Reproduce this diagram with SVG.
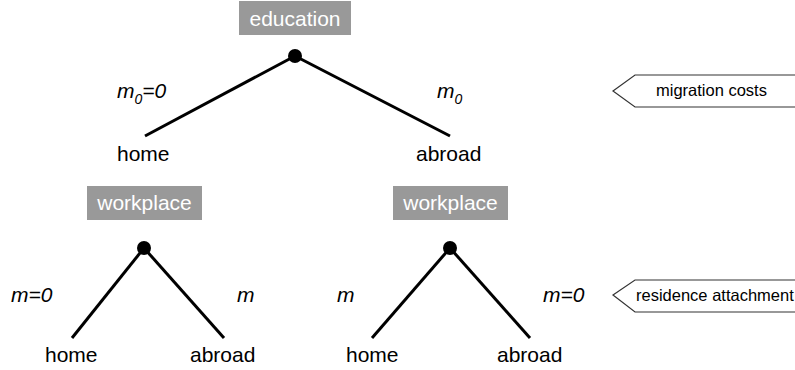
<svg xmlns="http://www.w3.org/2000/svg" width="795" height="370" viewBox="0 0 795 370">
<style>
.box{fill:#999999}
.bt{font-family:"Liberation Sans",Arial,sans-serif;font-size:21px;fill:#ffffff;text-anchor:middle}
.lbl{font-family:"Liberation Sans",Arial,sans-serif;font-size:21px;fill:#000000}
.it{font-family:"Liberation Sans",Arial,sans-serif;font-size:21px;font-style:italic;fill:#000000}
.sub{font-size:14px}
.edge{stroke:#000000;stroke-width:3;fill:none;stroke-linecap:butt}
.dot{fill:#000000}
.tag{fill:#ffffff;stroke:#333333;stroke-width:1.2}
.tt{font-family:"Liberation Sans",Arial,sans-serif;font-size:16.5px;fill:#000000}
</style>
<rect width="795" height="370" fill="#ffffff"/>
<g id="connectors">
<line class="edge" x1="295" y1="56" x2="145" y2="136"/>
<line class="edge" x1="295" y1="56" x2="450" y2="136"/>
<line class="edge" x1="144" y1="248" x2="72" y2="338"/>
<line class="edge" x1="144" y1="248" x2="224" y2="338"/>
<line class="edge" x1="450" y1="248" x2="372" y2="338"/>
<line class="edge" x1="450" y1="248" x2="530" y2="338"/>
</g>
<g id="education">
<rect class="box" x="239" y="1" width="112" height="34"/>
<text class="bt" x="295" y="26">education</text>
<circle class="dot" cx="295" cy="56" r="7"/>
</g>
<g id="edu-labels">
<text class="it" x="117" y="98">m<tspan class="sub" dy="6">0</tspan><tspan dy="-6">=0</tspan></text>
<text class="it" x="437" y="98">m<tspan class="sub" dy="6">0</tspan></text>
</g>
<g id="home-top"><text class="lbl" x="117" y="161">home</text></g>
<g id="abroad-top"><text class="lbl" x="416" y="161">abroad</text></g>
<g id="workplace-left">
<rect class="box" x="87" y="186" width="115" height="34"/>
<text class="bt" x="144.5" y="210">workplace</text>
<circle class="dot" cx="144" cy="248" r="7"/>
</g>
<g id="workplace-right">
<rect class="box" x="393" y="186" width="115" height="34"/>
<text class="bt" x="450.5" y="210">workplace</text>
<circle class="dot" cx="450" cy="248" r="7"/>
</g>
<g id="left-labels">
<text class="it" x="11" y="302">m=0</text>
<text class="it" x="237" y="302">m</text>
</g>
<g id="right-labels">
<text class="it" x="337" y="302">m</text>
<text class="it" x="543" y="302">m=0</text>
</g>
<g id="home-l"><text class="lbl" x="45" y="362">home</text></g>
<g id="abroad-l"><text class="lbl" x="190" y="362">abroad</text></g>
<g id="home-r"><text class="lbl" x="346" y="362">home</text></g>
<g id="abroad-r"><text class="lbl" x="497" y="362">abroad</text></g>
<g id="migration-costs">
<polygon class="tag" points="613,91 635,75 800,75 800,107 635,107"/>
<text class="tt" x="656" y="96">migration costs</text>
</g>
<g id="residence-attachment">
<polygon class="tag" points="613,295 635,280 800,280 800,312 635,312"/>
<text class="tt" x="636" y="301">residence attachment</text>
</g>
</svg>
